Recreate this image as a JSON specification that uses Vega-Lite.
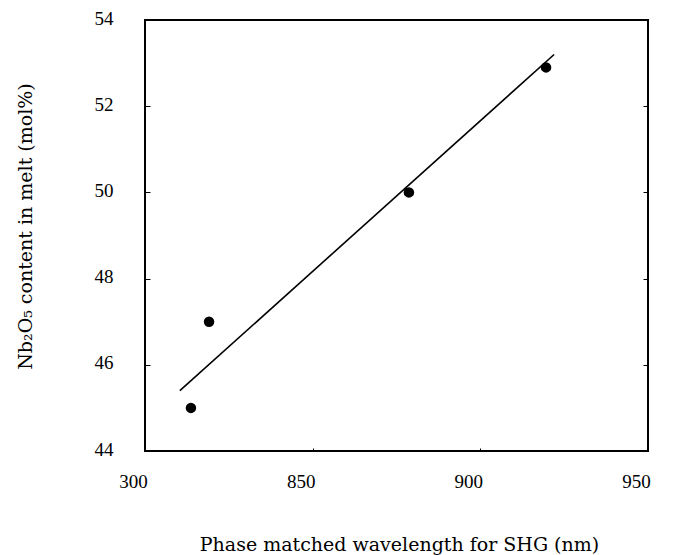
{
  "$schema": "https://vega.github.io/schema/vega-lite/v6.json",
  "width": 503,
  "height": 431,
  "autosize": {"type": "none"},
  "padding": {"left": 145, "top": 20, "right": 37, "bottom": 104},
  "background": "white",
  "config": {
    "view": {"stroke": "black", "strokeWidth": 2},
    "font": "Liberation Serif",
    "axis": {"grid": false, "domain": false, "labelFont": "Liberation Serif", "titleFont": "DejaVu Serif", "labelColor": "black", "titleColor": "black", "titleFontWeight": "normal", "tickColor": "black"}
  },
  "datasets": {
    "points": [
      {"wavelength": 813.7, "nb2o5": 45.0},
      {"wavelength": 819.1, "nb2o5": 47.0},
      {"wavelength": 878.7, "nb2o5": 50.0},
      {"wavelength": 919.6, "nb2o5": 52.9}
    ],
    "fit": [
      {"wavelength": 810.4, "nb2o5": 45.4},
      {"wavelength": 922.0, "nb2o5": 53.2}
    ]
  },
  "layer": [
    {
      "data": {"name": "fit"},
      "mark": {"type": "line", "color": "black", "strokeWidth": 1.6},
      "encoding": {
        "x": {"field": "wavelength", "type": "quantitative", "scale": {"domain": [800, 950], "nice": false, "zero": false},
          "axis": {"values": [800, 850, 900, 950], "labelExpr": "datum.value == 800 ? '300' : datum.label", "labelFontSize": 19, "labelFlush": false, "tickSize": -3, "labelPadding": 24, "labelOffset": -12, "title": "Phase matched wavelength for SHG (nm)", "titleFontSize": 19, "titleX": 254, "titleY": 93, "titleBaseline": "middle"}},
        "y": {"field": "nb2o5", "type": "quantitative", "scale": {"domain": [44, 54], "nice": false, "zero": false},
          "axis": {"values": [44, 46, 48, 50, 52, 54], "labelFontSize": 19, "tickSize": -5, "labelPadding": 37, "labelOffset": -2, "title": "Nb₂O₅ content in melt (mol%)", "titleFontSize": 19, "titleX": -120, "titleY": 206, "titleAngle": -90, "titleAlign": "center", "titleBaseline": "middle"}}
      }
    },
    {
      "data": {"name": "points"},
      "mark": {"type": "point", "shape": "circle", "filled": true, "color": "black", "opacity": 1, "size": 110},
      "encoding": {
        "x": {"field": "wavelength", "type": "quantitative"},
        "y": {"field": "nb2o5", "type": "quantitative", "axis": {"orient": "right", "values": [46, 48, 50, 52], "labels": false, "tickSize": -5, "title": null}}
      }
    }
  ],
  "resolve": {"axis": {"y": "independent"}}
}
